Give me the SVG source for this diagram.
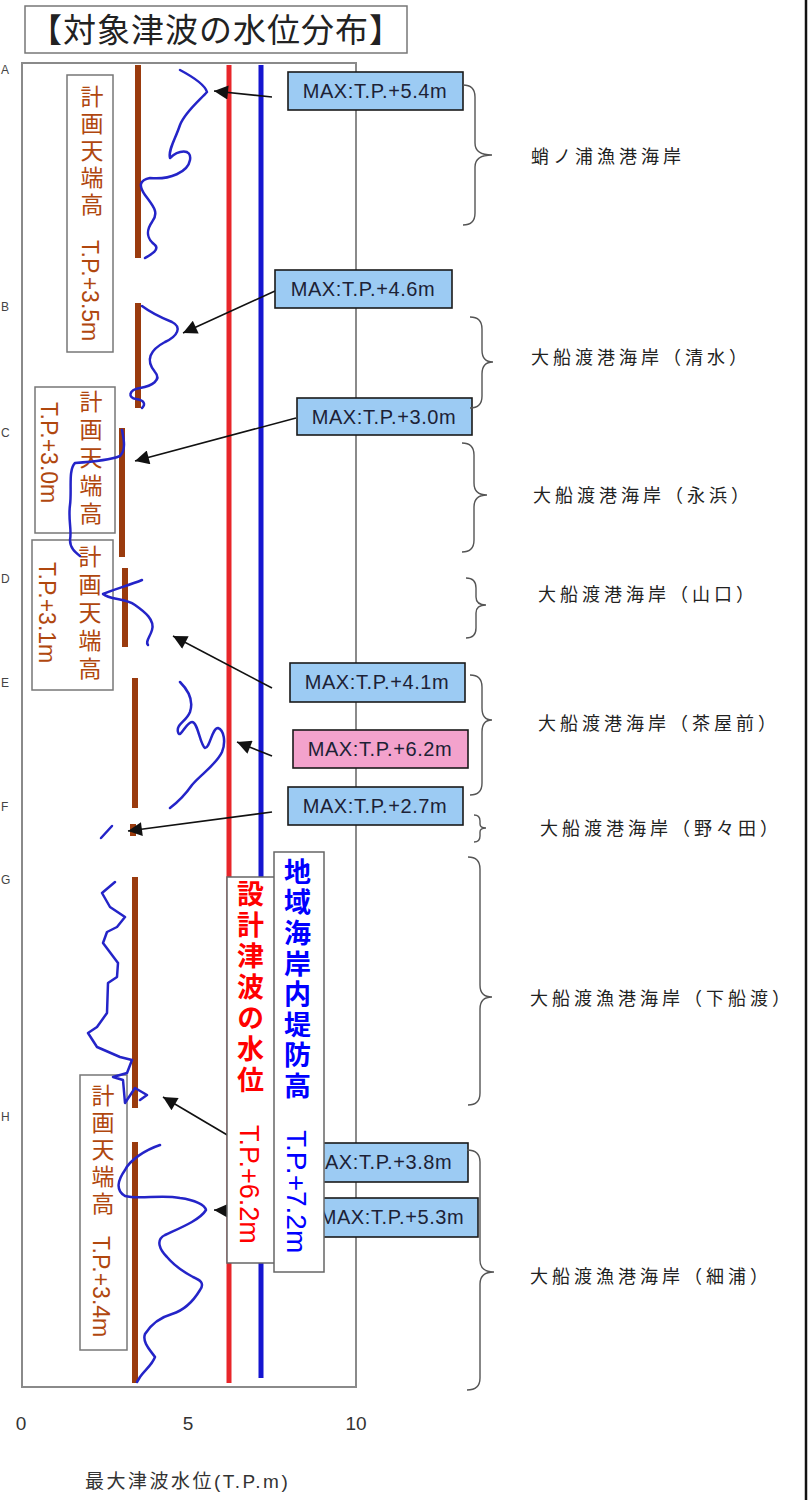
<svg xmlns="http://www.w3.org/2000/svg" width="810" height="1500" viewBox="0 0 810 1500">
<style>
.frame{fill:none;stroke:#8a8a8a;stroke-width:2}
.brown{stroke:#9a3b0e;stroke-width:6;fill:none}
.wave{fill:none;stroke:#2424c8;stroke-width:2.5;stroke-linejoin:round;stroke-linecap:round}
.arr{stroke:#111;stroke-width:1.6;fill:none;marker-end:url(#ah)}
.maxb{fill:#9ccbf3;stroke:#1a1a1a;stroke-width:1.6}
.maxp{fill:#f3a2cc;stroke:#1a1a1a;stroke-width:1.6}
.maxt{font-family:"Liberation Sans",Arial,sans-serif;font-size:20px;fill:#1c2236;text-anchor:middle;letter-spacing:0.6px}
.lbox{fill:#fff;stroke:#777;stroke-width:1.5}
.vt{writing-mode:vertical-rl;font-family:"Liberation Sans","Noto Sans CJK JP",sans-serif}
.bt{fill:#b0470e;font-size:23px}
.brace{fill:none;stroke:#555;stroke-width:1.4}
.lab{font-family:"Noto Sans CJK JP",sans-serif;font-size:18px;fill:#222;letter-spacing:4px}
.axis{font-family:"Liberation Sans",Arial,sans-serif;font-size:19px;fill:#333;text-anchor:middle}
</style>
<defs>
<marker id="ah" viewBox="0 0 10 10" refX="10" refY="5" markerWidth="18" markerHeight="14" markerUnits="userSpaceOnUse" orient="auto">
<path d="M0,0 L10,5 L0,10 z" fill="#111"/>
</marker>
</defs>
<rect width="810" height="1500" fill="#fff"/>
<line x1="806" y1="0" x2="806" y2="1500" stroke="#111" stroke-width="2.5"/>

<g id="title">
<rect x="25" y="6" width="382" height="47" fill="#fff" stroke="#777" stroke-width="1.5"/>
<text x="216" y="42" font-family="Noto Sans CJK JP,sans-serif" font-size="33" fill="#222" text-anchor="middle" letter-spacing="1">【対象津波の水位分布】</text>
</g>

<g id="edge-letters" font-family="Liberation Sans,Arial,sans-serif" font-size="12" fill="#444">
<text x="1" y="74">A</text><text x="1" y="311">B</text><text x="1" y="437">C</text><text x="1" y="583">D</text>
<text x="1" y="687">E</text><text x="1" y="811">F</text><text x="1" y="884">G</text><text x="1" y="1121">H</text>
</g>

<g id="plot-frame"><rect class="frame" x="22" y="63" width="334" height="1324"/></g>

<g id="label-A">
<rect class="lbox" x="67" y="75" width="46" height="277"/>
<text class="vt bt" x="90" y="85" letter-spacing="4">計画天端高</text>
<text class="vt bt" x="90" y="240" font-size="22">T.P.+3.5m</text>
</g>
<g id="label-C">
<rect class="lbox" x="35" y="387" width="80" height="146"/>
<text class="vt bt" x="89" y="390" letter-spacing="5">計画天端高</text>
<text class="vt bt" x="49" y="402" font-size="22">T.P.+3.0m</text>
</g>
<g id="label-D">
<rect class="lbox" x="32" y="540" width="81" height="150"/>
<text class="vt bt" x="88" y="545" letter-spacing="5">計画天端高</text>
<text class="vt bt" x="47" y="562" font-size="22">T.P.+3.1m</text>
</g>
<g id="label-H">
<rect class="lbox" x="80" y="1075" width="47" height="275"/>
<text class="vt bt" x="101" y="1084" letter-spacing="4">計画天端高</text>
<text class="vt bt" x="101" y="1236" font-size="22">T.P.+3.4m</text>
</g>

<g id="crest-bars">
<line class="brown" x1="138" y1="65" x2="138" y2="258"/>
<line class="brown" x1="138" y1="303" x2="138" y2="408"/>
<line class="brown" x1="122" y1="428" x2="122" y2="557"/>
<line class="brown" x1="125" y1="568" x2="125" y2="647"/>
<line class="brown" x1="135" y1="678" x2="135" y2="808"/>
<line class="brown" x1="133" y1="824" x2="133" y2="836"/>
<line class="brown" x1="135" y1="877" x2="135" y2="1108"/>
<line class="brown" x1="135" y1="1142" x2="135" y2="1383"/>
</g>

<g id="waves">
<path class="wave" d="M180,70 C195,78 205,85 207,92 C200,100 185,112 180,125 C175,140 168,150 170,158 C178,150 192,148 190,160 C188,172 170,180 150,178 C140,180 138,185 145,195 C152,205 160,212 152,222 C145,232 148,240 155,245 C160,250 150,255 145,258"/>
<path class="wave" d="M142,306 C150,312 162,318 172,322 C182,327 178,336 165,342 C150,350 145,360 155,372 C162,380 152,386 140,388 C128,390 128,398 136,399 C144,400 146,404 142,408"/>
<path class="wave" d="M122,430 C124,440 126,450 120,456 C110,460 90,462 75,463 C68,470 72,490 70,505 C68,520 72,530 70,540 C70,548 75,552 80,556"/>
<path class="wave" d="M142,580 C130,585 112,590 103,594 C110,600 125,598 135,605 C145,612 155,620 152,630 C150,637 145,642 148,645"/>
<path class="wave" d="M180,682 C188,690 194,700 190,712 C186,722 176,724 178,732 C180,740 186,722 192,722 C198,722 200,745 205,748 C210,748 212,728 218,728 C224,730 226,742 222,752 C216,765 200,775 192,785 C185,795 178,802 170,808"/>
<path class="wave" d="M101,838 L112,826"/>
<polyline class="wave" points="115,882 102,893 110,907 125,917 117,927 107,932 103,943 118,963 117,977 108,983 107,1013 97,1027 88,1033 97,1047 120,1057 132,1060 127,1073 113,1077 123,1080 125,1103 135,1088 147,1095 140,1100"/>
<path class="wave" d="M160,1145 C145,1150 130,1160 125,1170 C118,1180 115,1190 125,1196 C140,1200 160,1194 180,1198 C195,1200 205,1205 206,1210 C200,1220 180,1228 165,1235 C155,1240 160,1250 167,1257 C172,1263 180,1270 193,1277 C200,1280 205,1283 200,1290 C194,1300 185,1310 172,1314 C158,1318 150,1326 145,1334 C142,1342 150,1350 155,1357 C152,1365 145,1370 140,1377 L137,1382"/>
</g>

<g id="design-lines">
<line x1="229" y1="65" x2="229" y2="1383" stroke="#e8262a" stroke-width="5"/>
<line x1="261" y1="65" x2="261" y2="1378" stroke="#1515d0" stroke-width="5"/>
</g>

<g id="connectors">
<line class="arr" x1="272" y1="97" x2="214" y2="91"/>
<line class="arr" x1="275" y1="291" x2="183" y2="333"/>
<line class="arr" x1="296" y1="418" x2="135" y2="461"/>
<line class="arr" x1="272" y1="688" x2="173" y2="636"/>
<line class="arr" x1="272" y1="756" x2="237" y2="742"/>
<line class="arr" x1="272" y1="812" x2="128" y2="831"/>
<line class="arr" x1="300" y1="1178" x2="163" y2="1097"/>
<line class="arr" x1="320" y1="1215" x2="214" y2="1210"/>
</g>

<g id="max-A"><rect class="maxb" x="288" y="72" width="175" height="38"/><text class="maxt" x="375" y="98">MAX:T.P.+5.4m</text></g>
<g id="max-B"><rect class="maxb" x="275" y="270" width="177" height="38"/><text class="maxt" x="363" y="296">MAX:T.P.+4.6m</text></g>
<g id="max-C"><rect class="maxb" x="297" y="398" width="175" height="37"/><text class="maxt" x="384" y="424">MAX:T.P.+3.0m</text></g>
<g id="max-E1"><rect class="maxb" x="290" y="663" width="175" height="39"/><text class="maxt" x="377" y="689">MAX:T.P.+4.1m</text></g>
<g id="max-E2"><rect class="maxp" x="293" y="730" width="175" height="38"/><text class="maxt" x="380" y="756">MAX:T.P.+6.2m</text></g>
<g id="max-F"><rect class="maxb" x="288" y="787" width="175" height="38"/><text class="maxt" x="375" y="813">MAX:T.P.+2.7m</text></g>
<g id="max-G"><rect class="maxb" x="293" y="1143" width="175" height="39"/><text class="maxt" x="380" y="1169">MAX:T.P.+3.8m</text></g>
<g id="max-H"><rect class="maxb" x="303" y="1198" width="175" height="39"/><text class="maxt" x="392" y="1224">MAX:T.P.+5.3m</text></g>

<g id="design-tsunami-label">
<rect x="227" y="877" width="50" height="386" fill="#fff" stroke="#666" stroke-width="1.5"/>
<text class="vt" x="248" y="880" font-size="27" font-weight="bold" fill="#ff0000" letter-spacing="4">設計津波の水位</text>
<text class="vt" x="249" y="1125" font-size="27" fill="#ff0000">T.P.+6.2m</text>
</g>
<g id="levee-label">
<rect x="274" y="852" width="50" height="420" fill="#fff" stroke="#666" stroke-width="1.5"/>
<text class="vt" x="295" y="858" font-size="27" font-weight="bold" fill="#0000ff" letter-spacing="3.6">地域海岸内堤防高</text>
<text class="vt" x="296" y="1130" font-size="28" fill="#0000ff">T.P.+7.2m</text>
</g>

<g id="braces">
<path class="brace" d="M463,85 Q475,85 475,97 L475,143 Q475,155 492,155 Q475,155 475,167 L475,213 Q475,225 463,225"/>
<path class="brace" d="M470,317 Q482,317 482,329 L482,350 Q482,362 493,362 Q482,362 482,374 L482,396 Q482,408 470,408"/>
<path class="brace" d="M462,443 Q474,443 474,455 L474,483 Q474,495 487,495 Q474,495 474,507 L474,540 Q474,552 462,552"/>
<path class="brace" d="M466,578 Q476,578 476,588 L476,597 Q476,605 486,605 Q476,605 476,613 L476,628 Q476,638 466,638"/>
<path class="brace" d="M470,675 Q482,675 482,687 L482,708 Q482,720 492,720 Q482,720 482,732 L482,783 Q482,795 470,795"/>
<path class="brace" d="M474,815 Q480,815 480,821 L480,824 Q480,828 486,828 Q480,828 480,832 L480,836 Q480,842 474,842"/>
<path class="brace" d="M468,857 Q480,857 480,869 L480,985 Q480,997 492,997 Q480,997 480,1009 L480,1093 Q480,1105 468,1105"/>
<path class="brace" d="M467,1150 Q480,1150 480,1162 L480,1260 Q480,1272 494,1272 Q480,1272 480,1284 L480,1378 Q480,1390 467,1390"/>
</g>

<g id="coast-labels">
<text class="lab" x="531" y="163">蛸ノ浦漁港海岸</text>
<text class="lab" x="531" y="364">大船渡港海岸（清水）</text>
<text class="lab" x="533" y="502">大船渡港海岸（永浜）</text>
<text class="lab" x="538" y="601">大船渡港海岸（山口）</text>
<text class="lab" x="538" y="730">大船渡港海岸（茶屋前）</text>
<text class="lab" x="540" y="835">大船渡港海岸（野々田）</text>
<text class="lab" x="530" y="1005">大船渡漁港海岸（下船渡）</text>
<text class="lab" x="530" y="1283">大船渡漁港海岸（細浦）</text>
</g>

<g id="x-axis">
<text class="axis" x="21" y="1430">0</text>
<text class="axis" x="188" y="1430">5</text>
<text class="axis" x="356" y="1430">10</text>
<text x="85" y="1488" font-family="Liberation Sans,Noto Sans CJK JP,sans-serif" font-size="19" fill="#333" letter-spacing="2.5">最大津波水位(T.P.m)</text>
</g>
</svg>
